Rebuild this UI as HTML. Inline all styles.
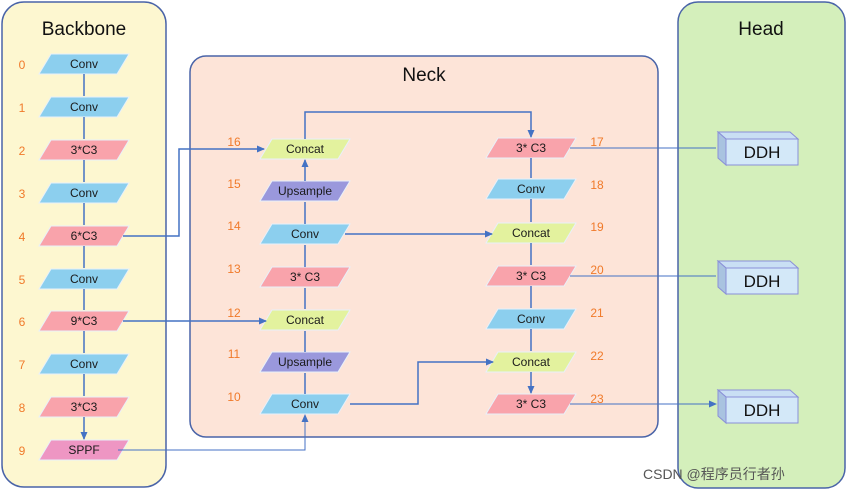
<!DOCTYPE html>
<html><head><meta charset="utf-8"><style>
body{margin:0;background:#fff;}
svg{display:block;font-family:"Liberation Sans","Noto Sans CJK SC",sans-serif;}
</style></head><body>
<svg width="850" height="493" viewBox="0 0 850 493" xmlns="http://www.w3.org/2000/svg">
<defs>
<marker id="a" markerWidth="8" markerHeight="8" refX="7" refY="4" orient="auto" markerUnits="userSpaceOnUse"><path d="M0,0.5 L8,4 L0,7.5 Z" fill="#4472c4"/></marker>
</defs>
<rect x="2" y="2" width="164" height="485" rx="22" fill="#fdf7d0" stroke="#4a64a8" stroke-width="1.5"/>
<rect x="190" y="56" width="468" height="381" rx="16" fill="#fde4d8" stroke="#4a64a8" stroke-width="1.5"/>
<rect x="678" y="2" width="167" height="486" rx="20" fill="#d4efbb" stroke="#4a64a8" stroke-width="1.5"/>
<g font-size="19" fill="#111" text-anchor="middle">
<text x="84" y="35">Backbone</text><text x="424" y="81">Neck</text><text x="761" y="35">Head</text>
</g>
<g font-size="12" text-anchor="middle" fill="#1a1a1a" stroke="none">
<polygon points="51,54 129,54 117,74 39,74" fill="#8ccfee" stroke="#e8f0fa"/><text x="84" y="68">Conv</text>
<polygon points="51,97 129,97 117,117 39,117" fill="#8ccfee" stroke="#e8f0fa"/><text x="84" y="111">Conv</text>
<polygon points="51,140 129,140 117,160 39,160" fill="#f9a3ab" stroke="#e8f0fa"/><text x="84" y="154">3*C3</text>
<polygon points="51,183 129,183 117,203 39,203" fill="#8ccfee" stroke="#e8f0fa"/><text x="84" y="197">Conv</text>
<polygon points="51,226 129,226 117,246 39,246" fill="#f9a3ab" stroke="#e8f0fa"/><text x="84" y="240">6*C3</text>
<polygon points="51,269 129,269 117,289 39,289" fill="#8ccfee" stroke="#e8f0fa"/><text x="84" y="283">Conv</text>
<polygon points="51,311 129,311 117,331 39,331" fill="#f9a3ab" stroke="#e8f0fa"/><text x="84" y="325">9*C3</text>
<polygon points="51,354 129,354 117,374 39,374" fill="#8ccfee" stroke="#e8f0fa"/><text x="84" y="368">Conv</text>
<polygon points="51,397 129,397 117,417 39,417" fill="#f9a3ab" stroke="#e8f0fa"/><text x="84" y="411">3*C3</text>
<polygon points="51,440 129,440 117,460 39,460" fill="#ee96c3" stroke="#e8f0fa"/><text x="84" y="454">SPPF</text>
<polygon points="272,139 350,139 338,159 260,159" fill="#e3f29e" stroke="#e8f0fa"/><text x="305" y="153">Concat</text>
<polygon points="272,181 350,181 338,201 260,201" fill="#9a98dc" stroke="#e8f0fa"/><text x="305" y="195">Upsample</text>
<polygon points="272,224 350,224 338,244 260,244" fill="#8ccfee" stroke="#e8f0fa"/><text x="305" y="238">Conv</text>
<polygon points="272,267 350,267 338,287 260,287" fill="#f9a3ab" stroke="#e8f0fa"/><text x="305" y="281">3* C3</text>
<polygon points="272,310 350,310 338,330 260,330" fill="#e3f29e" stroke="#e8f0fa"/><text x="305" y="324">Concat</text>
<polygon points="272,352 350,352 338,372 260,372" fill="#9a98dc" stroke="#e8f0fa"/><text x="305" y="366">Upsample</text>
<polygon points="272,394 350,394 338,414 260,414" fill="#8ccfee" stroke="#e8f0fa"/><text x="305" y="408">Conv</text>
<polygon points="498,138 576,138 564,158 486,158" fill="#f9a3ab" stroke="#e8f0fa"/><text x="531" y="152">3* C3</text>
<polygon points="498,179 576,179 564,199 486,199" fill="#8ccfee" stroke="#e8f0fa"/><text x="531" y="193">Conv</text>
<polygon points="498,223 576,223 564,243 486,243" fill="#e3f29e" stroke="#e8f0fa"/><text x="531" y="237">Concat</text>
<polygon points="498,266 576,266 564,286 486,286" fill="#f9a3ab" stroke="#e8f0fa"/><text x="531" y="280">3* C3</text>
<polygon points="498,309 576,309 564,329 486,329" fill="#8ccfee" stroke="#e8f0fa"/><text x="531" y="323">Conv</text>
<polygon points="498,352 576,352 564,372 486,372" fill="#e3f29e" stroke="#e8f0fa"/><text x="531" y="366">Concat</text>
<polygon points="498,394 576,394 564,414 486,414" fill="#f9a3ab" stroke="#e8f0fa"/><text x="531" y="408">3* C3</text>
</g>
<g fill="none" stroke="#4472c4" stroke-width="1.5">
<path d="M84 74V96M84 117V139M84 160V182M84 203V225M84 246V268M84 289V310M84 331V353M84 374V396M84 417V439" marker-end="url(#a)"/>
<path d="M123 236H179V149H264" marker-end="url(#a)"/>
<path d="M123 321H266" marker-end="url(#a)"/>
<path d="M118 450H305V415" stroke-width="1" marker-end="url(#a)"/>
<path d="M305 394V373M305 352V331M305 309V288M305 267V245M305 224V202M305 181V160" marker-end="url(#a)"/>
<path d="M305 139V112H531V137" marker-end="url(#a)"/>
<path d="M345 234H492" marker-end="url(#a)"/>
<path d="M350 404H418V362H493" marker-end="url(#a)"/>
<path d="M531 158V178M531 199V222M531 243V265M531 286V308M531 329V351M531 372V393" marker-end="url(#a)"/>
<path d="M570 148H716M570 276H716M570 404H716" stroke-width="1" marker-end="url(#a)"/>
</g>
<g font-size="12" fill="#f07a2a" text-anchor="middle">
<text x="22" y="69">0</text><text x="22" y="112">1</text><text x="22" y="155">2</text><text x="22" y="198">3</text><text x="22" y="241">4</text><text x="22" y="284">5</text><text x="22" y="326">6</text><text x="22" y="369">7</text><text x="22" y="412">8</text><text x="22" y="455">9</text>
<text x="234" y="146">16</text><text x="234" y="188">15</text><text x="234" y="230">14</text><text x="234" y="273">13</text><text x="234" y="317">12</text><text x="234" y="358">11</text><text x="234" y="401">10</text>
<text x="597" y="146">17</text><text x="597" y="189">18</text><text x="597" y="231">19</text><text x="597" y="274">20</text><text x="597" y="317">21</text><text x="597" y="360">22</text><text x="597" y="403">23</text>
</g>
<g font-size="17" text-anchor="middle" fill="#111">
<g><polygon points="718,132 790,132 798,139 726,139" fill="#c9dff4" stroke="#8a8fd8"/><polygon points="718,132 726,139 726,165 718,158" fill="#a9c3e0" stroke="#8a8fd8"/><rect x="726" y="139" width="72" height="26" fill="#d3e8f8" stroke="#8a8fd8"/><text x="762" y="158">DDH</text></g>
<g><polygon points="718,261 790,261 798,268 726,268" fill="#c9dff4" stroke="#8a8fd8"/><polygon points="718,261 726,268 726,294 718,287" fill="#a9c3e0" stroke="#8a8fd8"/><rect x="726" y="268" width="72" height="26" fill="#d3e8f8" stroke="#8a8fd8"/><text x="762" y="287">DDH</text></g>
<g><polygon points="718,390 790,390 798,397 726,397" fill="#c9dff4" stroke="#8a8fd8"/><polygon points="718,390 726,397 726,423 718,416" fill="#a9c3e0" stroke="#8a8fd8"/><rect x="726" y="397" width="72" height="26" fill="#d3e8f8" stroke="#8a8fd8"/><text x="762" y="416">DDH</text></g>
</g>
<text x="643" y="479" font-size="14" fill="#555">CSDN @程序员行者孙</text>
</svg>
</body></html>
